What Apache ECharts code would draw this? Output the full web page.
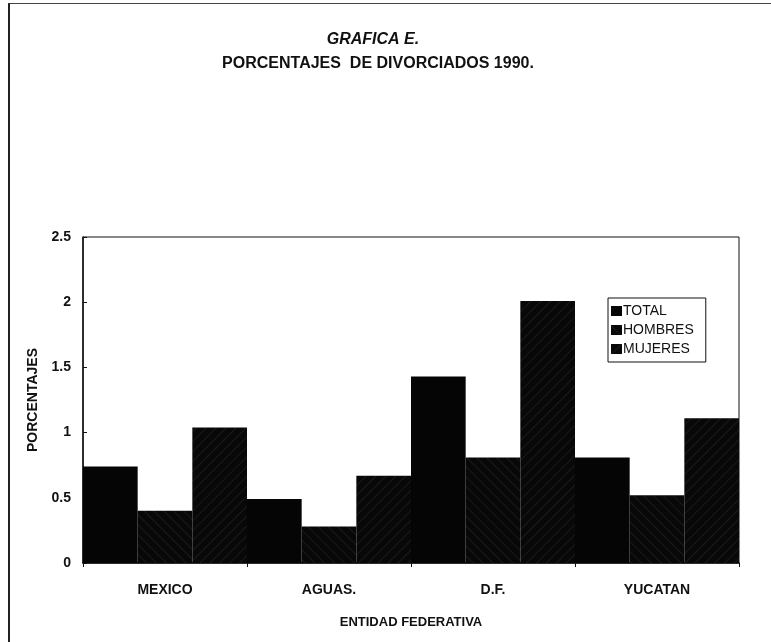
<!DOCTYPE html>
<html>
<head>
<meta charset="utf-8">
<script src="https://cdn.jsdelivr.net/npm/echarts@6/dist/echarts.min.js"></script>
<style>
  html, body { margin: 0; padding: 0; background: #fff; }
  #frame { position: absolute; left: 8px; top: 3px; width: 763px; height: 639px;
           border-left: 2px solid #222; border-top: 1px solid #444; box-sizing: border-box; }
  #main { position: absolute; left: 0; top: 0; width: 771px; height: 642px; }
</style>
</head>
<body>
<div id="frame"></div>
<div id="main"></div>
<script type="text/javascript">
// categorias (entidades) y valores
var entidades = ['MEXICO', 'AGUAS.', 'D.F.', 'YUCATAN'];
var total   = [0.74, 0.49, 1.43, 0.81];
var hombres = [0.40, 0.28, 0.81, 0.52];
var mujeres = [1.04, 0.67, 2.01, 1.11];
var ticksY  = ['0', '0.5', '1', '1.5', '2', '2.5'];

var fuente = "'Liberation Sans', Arial, sans-serif";

var chart = echarts.init(document.getElementById('main'));
chart.setOption({
  backgroundColor: 'transparent',
  animation: false,
  title: [{
    text: 'GRAFICA E.',
    left: 368, top: 27, textAlign: 'center',
    textStyle: { fontFamily: fuente, fontSize: 16, fontWeight: 'bold', fontStyle: 'italic', color: '#111' }
  }, {
    text: 'PORCENTAJES  DE DIVORCIADOS 1990.',
    left: 373, top: 51, textAlign: 'center',
    textStyle: { fontFamily: fuente, fontSize: 16, fontWeight: 'bold', color: '#111' }
  }],
  legend: {
    orient: 'vertical',
    left: 608, top: 298,
    padding: [6, 12, 6, 3],
    itemGap: 5,
    itemWidth: 11, itemHeight: 10,
    icon: 'rect',
    borderColor: '#111', borderWidth: 1,
    textStyle: { fontFamily: fuente, fontSize: 14, color: '#111', padding: [0, 0, 0, -4] },
    data: ['TOTAL', 'HOMBRES', 'MUJERES']
  },
  grid: {
    left: 83, right: 32, top: 237, bottom: 79,
    show: true, borderColor: '#111', borderWidth: 1
  },
  xAxis: {
    type: 'category',
    data: entidades,
    name: 'ENTIDAD FEDERATIVA',
    nameLocation: 'middle',
    nameGap: 53,
    nameTextStyle: { fontFamily: fuente, fontSize: 13, fontWeight: 'bold', color: '#111' },
    axisLine: { lineStyle: { color: '#111', width: 1.5 } },
    axisTick: { show: true, length: 4, lineStyle: { color: '#111' } },
    axisLabel: { margin: 20, fontFamily: fuente, fontSize: 14, fontWeight: 'bold', color: '#111' }
  },
  yAxis: {
    type: 'value',
    min: 0, max: 2.5, interval: 0.5,
    name: 'PORCENTAJES',
    nameLocation: 'middle',
    nameGap: 38,
    nameRotate: 90,
    nameTextStyle: { fontFamily: fuente, fontSize: 14, fontWeight: 'bold', color: '#111' },
    splitLine: { show: false },
    axisLine: { show: true, lineStyle: { color: '#111', width: 1.5 } },
    axisTick: { show: true, length: 4, inside: true, lineStyle: { color: '#111' } },
    axisLabel: {
      margin: 12, fontFamily: fuente, fontSize: 14, fontWeight: 'bold', color: '#111',
      formatter: function (v) { return ticksY[Math.round(v / 0.5)]; }
    }
  },
  series: [{
    name: 'TOTAL', type: 'bar', data: total,
    barGap: '0%', barCategoryGap: '0%',
    itemStyle: { color: '#050505' }
  }, {
    name: 'HOMBRES', type: 'bar', data: hombres,
    barGap: '0%', barCategoryGap: '0%',
    itemStyle: {
      color: '#080808',
      decal: { color: 'rgba(255,255,255,0.07)', dashArrayX: [1, 0], dashArrayY: [1, 6], rotation: Math.PI / 4 }
    }
  }, {
    name: 'MUJERES', type: 'bar', data: mujeres,
    barGap: '0%', barCategoryGap: '0%',
    itemStyle: {
      color: '#080808',
      decal: { color: 'rgba(255,255,255,0.07)', dashArrayX: [1, 0], dashArrayY: [1, 6], rotation: -Math.PI / 4 }
    }
  }]
});
</script>
</body>
</html>
